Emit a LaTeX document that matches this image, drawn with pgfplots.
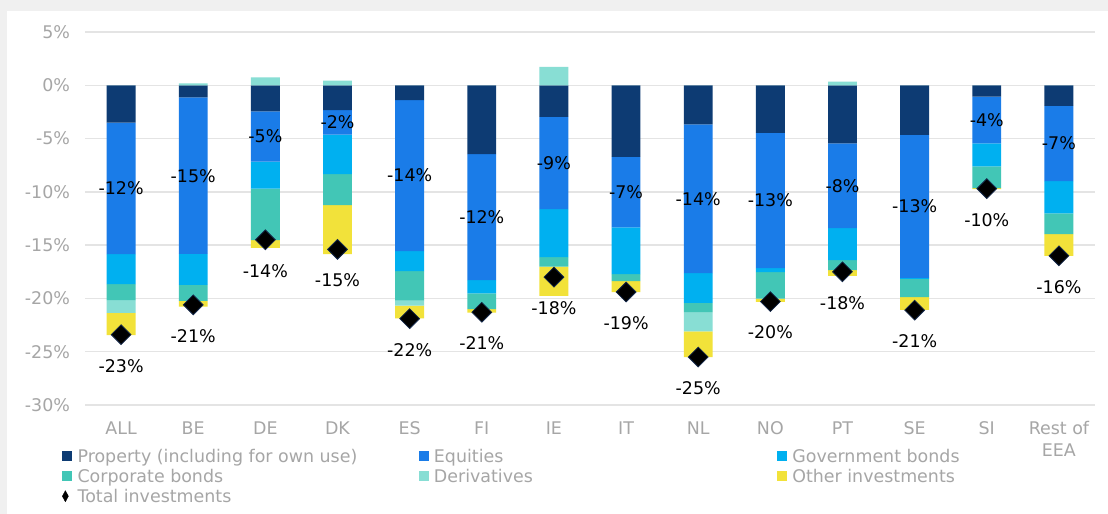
\documentclass[border=0pt]{standalone}
\usepackage{pgfplots}
\pgfplotsset{compat=1.18}
\usepackage{pgfplotstable}
\usepackage{fontspec}
\setmainfont{DejaVu Sans}
\definecolor{cprop}{HTML}{0D3B73}
\definecolor{ceq}{HTML}{1A7CE8}
\definecolor{cgov}{HTML}{00B0F0}
\definecolor{ccorp}{HTML}{42C6B6}
\definecolor{cder}{HTML}{88DED4}
\definecolor{coth}{HTML}{F2E23A}
\definecolor{cdia}{HTML}{14284A}
\definecolor{tickc}{HTML}{A6A6A6}
\definecolor{gridc}{HTML}{E4E4E4}
\definecolor{bgc}{HTML}{F0F0F0}
\pgfplotstableread{
x prop eq gov corp deriv other total eqlab totlab
0 -3.50 -12.35 -2.80 -1.50 -1.20 -2.10 -23.4 -12 -23
1 -1.13 -14.70 -2.90 -1.50 0.19 -0.53 -20.6 -15 -21
2 -2.44 -4.72 -2.53 -4.84 0.75 -0.72 -14.5 -5 -14
3 -2.34 -2.28 -3.72 -2.90 0.44 -4.60 -15.4 -2 -15
4 -1.40 -14.15 -1.88 -2.78 -0.47 -1.19 -21.9 -14 -22
5 -6.47 -11.81 -1.25 -1.47 0.00 -0.34 -21.3 -12 -21
6 -2.97 -8.66 -4.50 -0.88 1.72 -2.75 -18.0 -9 -18
7 -6.72 -6.62 -4.38 -0.66 0.00 -1.03 -19.4 -7 -19
8 -3.66 -13.97 -2.78 -0.88 -1.81 -2.40 -25.5 -14 -25
9 -4.47 -12.69 -0.38 -2.47 0.00 -0.31 -20.3 -13 -20
10 -5.44 -7.97 -3.00 -0.94 0.34 -0.53 -17.5 -8 -18
11 -4.66 -13.40 -0.10 -1.72 0.00 -1.19 -21.1 -13 -21
12 -1.06 -4.38 -2.16 -2.06 0.00 -0.09 -9.7 -4 -10
13 -1.94 -7.06 -3.03 -1.94 0.00 -2.03 -16.0 -7 -16
}\data
\pgfplotsset{common/.style={scale only axis, width=1010bp, height=373bp,
  at={(85bp,109bp)}, anchor=south west, xmin=-0.5, xmax=13.5, ymin=-30, ymax=5}}
\newcommand{\lfont}{\fontsize{17.5}{22}\selectfont}
\begin{document}
\begin{tikzpicture}
\path[use as bounding box] (0,0) rectangle (1108bp,514bp);
\fill[bgc] (0,0) rectangle (1108bp,514bp);
\fill[white] (7bp,0) rectangle (1108bp,503bp);
\begin{axis}[common, ybar stacked, bar width=0.4,
  axis line style={draw=none}, major tick length=0pt,
  ymajorgrids, grid style={color=gridc, line width=1.5bp},
  ytick={-30,-25,...,5},
  yticklabels={-30\%,-25\%,-20\%,-15\%,-10\%,-5\%,0\%,5\%},
  xtick={0,...,13},
  xticklabels={ALL,BE,DE,DK,ES,FI,IE,IT,NL,NO,PT,SE,SI,{Rest of\\EEA}},
  xticklabel style={align=center, text=tickc, font=\lfont, yshift=-13bp},
  yticklabel style={text=tickc, font=\lfont, xshift=-11.5bp},
]
\addplot[fill=cprop, draw=none] table[x=x, y=prop]{\data};
\addplot[fill=ceq, draw=none] table[x=x, y=eq]{\data};
\addplot[fill=cgov, draw=none] table[x=x, y=gov]{\data};
\addplot[fill=ccorp, draw=none] table[x=x, y=corp]{\data};
\addplot[fill=cder, draw=none] table[x=x, y expr={min(\thisrow{deriv},0)}]{\data};
\addplot[fill=coth, draw=none] table[x=x, y=other]{\data};
\end{axis}
\begin{axis}[common, hide axis, clip=false,
  legend columns=3, legend cell align=left,
  legend style={at={(axis description cs:-0.0228,-0.1186)}, anchor=north west,
    draw=none, fill=none, font=\lfont, text=tickc, inner xsep=0pt, inner ysep=0pt,
    nodes={inner sep=0pt, text height=13bp, text depth=0.5bp},
    row sep=6.5bp,
    /tikz/every odd column/.append style={column sep=6bp}},
]
\addlegendimage{legend image code/.code={\fill[cprop] (0bp,-4.5bp) rectangle (9bp,4.5bp);}}
\addlegendentry{\makebox[341bp][l]{Property (including for own use)}}
\addlegendimage{legend image code/.code={\fill[ceq] (0bp,-4.5bp) rectangle (9bp,4.5bp);}}
\addlegendentry{\makebox[343bp][l]{Equities}}
\addlegendimage{legend image code/.code={\fill[cgov] (0bp,-4.5bp) rectangle (9bp,4.5bp);}}
\addlegendentry{Government bonds}
\addlegendimage{legend image code/.code={\fill[ccorp] (0bp,-4.5bp) rectangle (9bp,4.5bp);}}
\addlegendentry{\makebox[341bp][l]{Corporate bonds}}
\addlegendimage{legend image code/.code={\fill[cder] (0bp,-4.5bp) rectangle (9bp,4.5bp);}}
\addlegendentry{\makebox[343bp][l]{Derivatives}}
\addlegendimage{legend image code/.code={\fill[coth] (0bp,-4.5bp) rectangle (9bp,4.5bp);}}
\addlegendentry{Other investments}
\addplot[ybar, bar width=0.4, bar shift=0pt, fill=cder, draw=none, forget plot]
  table[x=x, y expr={max(\thisrow{deriv},0)}]{\data};
\addplot[only marks, mark=square*, mark size=7bp,
  mark options={rotate=45, fill=black, draw=cdia, line width=0.8bp},
  point meta=explicit symbolic,
  nodes near coords={\pgfplotspointmeta\%},
  nodes near coords style={anchor=center, yshift=-31bp, text=black, font=\lfont},
  legend image code/.code={\fill[black] (3bp,5.5bp) -- (6bp,0bp) -- (3bp,-5.5bp) -- (0bp,0bp) -- cycle;}]
  table[x=x, y=total, meta=totlab]{\data};
\addlegendentry{Total investments}
\addplot[only marks, mark=*, mark size=0pt, mark options={draw=none, fill=none},
  point meta=explicit symbolic,
  nodes near coords={\pgfplotspointmeta\%},
  nodes near coords style={anchor=center, text=black, font=\lfont}, forget plot]
  table[x=x, y expr={\thisrow{prop}+0.5*\thisrow{eq}}, meta=eqlab]{\data};
\end{axis}
\end{tikzpicture}
\end{document}
